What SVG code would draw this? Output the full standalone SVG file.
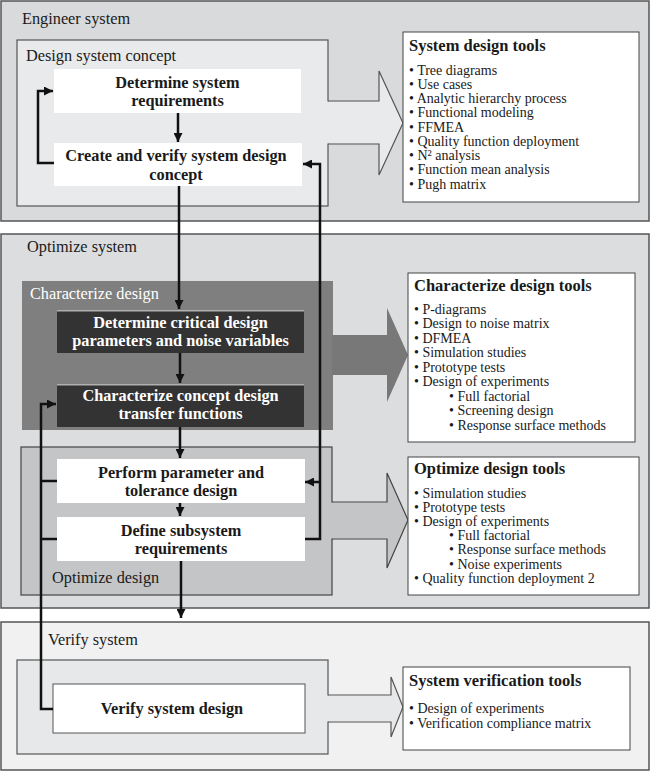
<svg xmlns="http://www.w3.org/2000/svg" width="650" height="771" viewBox="0 0 650 771">
<style>
text{font-family:"Liberation Serif","DejaVu Serif",serif;fill:#1a1a1a}
.lbl{font-size:16.3px}
.wl{font-size:16.3px;fill:#ffffff}
.bt{font-size:16.3px;font-weight:bold;text-anchor:middle}
.wt{font-size:16.3px;font-weight:bold;text-anchor:middle;fill:#ffffff}
.tt{font-size:16.5px;font-weight:bold}
.it{font-size:14px}
.wbox{fill:#ffffff}
.dbox{fill:#333333}
.tbox{fill:#ffffff;stroke:#444;stroke-width:1}
.con{fill:none;stroke:#111;stroke-width:2.5}
</style>
<defs>
<marker id="ah" viewBox="0 0 10 10" refX="10" refY="5" markerWidth="9" markerHeight="9" markerUnits="userSpaceOnUse" orient="auto">
<path d="M0,0 L10,5 L0,10 z" fill="#111"/>
</marker>
</defs>

<g id="engineer-system">
<rect x="1" y="1" width="648" height="220" fill="#d9dadc" stroke="#555" stroke-width="1.5"/>
<text class="lbl" x="22" y="24">Engineer system</text>
</g>
<g id="design-system-concept">
<rect x="17" y="40" width="311" height="166" fill="#e9eaeb" stroke="#555" stroke-width="1.2"/>
<text class="lbl" x="26" y="61">Design system concept</text>
<polygon points="327,101.6 379,101.6 379,71 403,123 379,175 379,143.4 327,143.4" fill="#e9eaeb"/>
<polyline points="328,101 379,101 379,71 403,123 379,175 379,144 328,144" fill="none" stroke="#555" stroke-width="1.2"/>
</g>
<g id="determine-system-requirements">
<rect class="wbox" x="54" y="69" width="247" height="44"/>
<text class="bt" x="177.5" y="88">Determine system</text>
<text class="bt" x="177.5" y="106">requirements</text>
</g>
<g id="create-verify-concept">
<rect class="wbox" x="54" y="143" width="248" height="43"/>
<text class="bt" x="176" y="161">Create and verify system design</text>
<text class="bt" x="176" y="180">concept</text>
</g>
<g id="system-design-tools">
<rect class="tbox" x="403" y="32" width="236" height="170"/>
<text class="tt" x="409" y="51">System design tools</text>
<text class="it" x="409" y="74.5">• Tree diagrams</text>
<text class="it" x="409" y="88.7">• Use cases</text>
<text class="it" x="409" y="103">• Analytic hierarchy process</text>
<text class="it" x="409" y="117.2">• Functional modeling</text>
<text class="it" x="409" y="131.5">• FFMEA</text>
<text class="it" x="409" y="145.7">• Quality function deployment</text>
<text class="it" x="409" y="160">• N² analysis</text>
<text class="it" x="409" y="174.2">• Function mean analysis</text>
<text class="it" x="409" y="188.5">• Pugh matrix</text>
</g>

<g id="optimize-system">
<rect x="1" y="234" width="648" height="374" fill="#dcdddf" stroke="#555" stroke-width="1.5"/>
<text class="lbl" x="27" y="252">Optimize system</text>
</g>
<g id="characterize-design">
<rect x="22" y="281" width="311" height="149" fill="#7f7f7f"/>
<text class="wl" x="30" y="299">Characterize design</text>
<polygon points="332,335 387,335 387,308 408,355 387,402 387,375 332,375" fill="#787878"/>
</g>
<g id="determine-critical">
<rect class="dbox" x="57" y="310" width="247" height="43"/>
<line x1="57" y1="310.7" x2="304" y2="310.7" stroke="#b0b0b0" stroke-width="1.4"/>
<text class="wt" x="180.5" y="328">Determine critical design</text>
<text class="wt" x="180.5" y="346">parameters and noise variables</text>
</g>
<g id="characterize-concept">
<rect class="dbox" x="57" y="384" width="247" height="43"/>
<line x1="57" y1="384.7" x2="304" y2="384.7" stroke="#b0b0b0" stroke-width="1.4"/>
<text class="wt" x="180.5" y="401">Characterize concept design</text>
<text class="wt" x="180.5" y="419">transfer functions</text>
</g>
<g id="characterize-design-tools">
<rect class="tbox" x="408" y="273" width="227" height="169"/>
<text class="tt" x="414" y="291">Characterize design tools</text>
<text class="it" x="414" y="313.5">• P-diagrams</text>
<text class="it" x="414" y="328">• Design to noise matrix</text>
<text class="it" x="414" y="342.5">• DFMEA</text>
<text class="it" x="414" y="357">• Simulation studies</text>
<text class="it" x="414" y="371.5">• Prototype tests</text>
<text class="it" x="414" y="386">• Design of experiments</text>
<text class="it" x="449" y="400.5">• Full factorial</text>
<text class="it" x="449" y="415">• Screening design</text>
<text class="it" x="449" y="429.5">• Response surface methods</text>
</g>
<g id="optimize-design">
<rect x="21" y="447" width="311" height="148" fill="#c4c5c7" stroke="#444" stroke-width="1.2"/>
<text class="lbl" x="52" y="583">Optimize design</text>
<polygon points="331,502.6 387,502.6 387,473 408,520 387,568 387,538.4 331,538.4" fill="#c4c5c7"/>
<polyline points="332,502 387,502 387,473 408,520 387,568 387,539 332,539" fill="none" stroke="#444" stroke-width="1.2"/>
</g>
<g id="perform-parameter">
<rect class="wbox" x="57" y="459" width="248" height="44"/>
<text class="bt" x="181" y="478">Perform parameter and</text>
<text class="bt" x="181" y="496">tolerance design</text>
</g>
<g id="define-subsystem">
<rect class="wbox" x="57" y="517" width="248" height="44"/>
<text class="bt" x="181" y="536">Define subsystem</text>
<text class="bt" x="181" y="554">requirements</text>
</g>
<g id="optimize-design-tools">
<rect class="tbox" x="408" y="457" width="231" height="138"/>
<text class="tt" x="414" y="473.5">Optimize design tools</text>
<text class="it" x="414" y="497.5">• Simulation studies</text>
<text class="it" x="414" y="511.7">• Prototype tests</text>
<text class="it" x="414" y="525.9">• Design of experiments</text>
<text class="it" x="449" y="540.1">• Full factorial</text>
<text class="it" x="449" y="554.3">• Response surface methods</text>
<text class="it" x="449" y="568.5">• Noise experiments</text>
<text class="it" x="414" y="582.7">• Quality function deployment 2</text>
</g>

<g id="verify-system">
<rect x="1" y="622" width="648" height="148" fill="#f1f1f2" stroke="#555" stroke-width="1.5"/>
<text class="lbl" x="48" y="645">Verify system</text>
<rect x="17" y="660" width="311" height="94" fill="#e7e8ea" stroke="#555" stroke-width="1.2"/>
<polygon points="327,695.6 391,695.6 391,677 403,707 391,737 391,721.4 327,721.4" fill="#e7e8ea"/>
<polyline points="328,695 391,695 391,677 403,707 391,737 391,722 328,722" fill="none" stroke="#555" stroke-width="1.2"/>
</g>
<g id="verify-system-design">
<rect x="53" y="684" width="252" height="49" fill="#ffffff" stroke="#555" stroke-width="1"/>
<text class="bt" x="172" y="714">Verify system design</text>
</g>
<g id="system-verification-tools">
<rect class="tbox" x="403" y="667" width="227" height="83"/>
<text class="tt" x="409" y="686">System verification tools</text>
<text class="it" x="409" y="712.5">• Design of experiments</text>
<text class="it" x="409" y="727.5">• Verification compliance matrix</text>
</g>

<g id="connectors">
<line class="con" x1="178" y1="113" x2="178" y2="142" marker-end="url(#ah)"/>
<polyline class="con" points="54,163 38,163 38,91 53,91" marker-end="url(#ah)"/>
<line class="con" x1="179" y1="186" x2="179" y2="309" marker-end="url(#ah)"/>
<polyline class="con" points="305,539 320,539 320,164 303,164" marker-end="url(#ah)"/>
<polyline class="con" points="320,482 305,482" marker-end="url(#ah)"/>
<line class="con" x1="180" y1="353" x2="180" y2="383" marker-end="url(#ah)"/>
<line class="con" x1="180" y1="427" x2="180" y2="458" marker-end="url(#ah)"/>
<line class="con" x1="180" y1="503" x2="180" y2="516" marker-end="url(#ah)"/>
<line class="con" x1="181" y1="561" x2="181" y2="618" marker-end="url(#ah)"/>
<polyline class="con" points="53,709 41,709 41,404 56,404" marker-end="url(#ah)"/>
<line class="con" x1="41" y1="481" x2="57" y2="481"/>
<line class="con" x1="41" y1="539" x2="57" y2="539"/>
</g>
</svg>
